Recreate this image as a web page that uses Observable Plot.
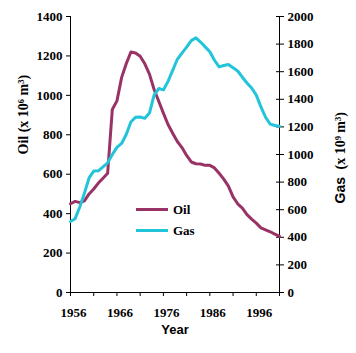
<!DOCTYPE html>
<html>
<head>
<meta charset="utf-8">
<script src="https://cdn.jsdelivr.net/npm/d3@7"></script>
<script src="https://cdn.jsdelivr.net/npm/@observablehq/plot@0.6"></script>
<style>
  html, body { margin: 0; padding: 0; background: #fff; }
  #wrap { position: relative; width: 356px; height: 353px; }
  #legend { position: absolute; left: 136px; top: 199px; font: bold 13px "Liberation Serif", serif; color: #000; }
  #legend .row { display: flex; align-items: center; height: 21px; }
  #legend .sw { width: 32px; height: 3px; margin-right: 5px; }
</style>
</head>
<body>
<div id="wrap"></div>
<script>
// ---- data ----
const years = d3.range(1956, 2002);
const oil = [450, 462, 456, 465, 500, 525, 555, 580, 605, 928,
             972, 1090, 1160, 1220, 1215, 1198, 1160, 1108, 1030, 970,
             910, 852, 808, 766, 735, 695, 662, 653, 652, 645,
             645, 632, 605, 575, 540, 485, 450, 428, 395, 372,
             352, 328, 318, 308, 296, 285];
const gas = [515, 535, 620, 720, 830, 880, 882, 910, 940, 1000,
             1052, 1080, 1145, 1235, 1270, 1272, 1262, 1300, 1430, 1478,
             1468, 1530, 1610, 1690, 1735, 1778, 1825, 1845, 1815, 1780,
             1745, 1683, 1635, 1645, 1652, 1628, 1605, 1560, 1518, 1482,
             1430, 1345, 1270, 1220, 1210, 1205];
const seriesNames = ["Oil", "Gas"];
const seriesColors = ["#993366", "#22C4DA"];
const oilTicks = d3.range(0, 1401, 200);
const gasTicks = d3.range(0, 2001, 200);
const xTicksMinor = d3.range(1956, 2002, 5);
const xTicksLabeled = d3.range(1956, 2000, 10);

const ratio = 1400 / 2000; // gas -> oil scale
const oilData = years.map((y, i) => ({year: y, v: oil[i]}));
const gasData = years.map((y, i) => ({year: y, v: gas[i] * ratio}));

const serif = "'Liberation Serif', 'Times New Roman', serif";
const sans = "'Liberation Sans', Arial, sans-serif";

const chart = Plot.plot({
  width: 356,
  height: 353,
  marginTop: 16,
  marginBottom: 61,
  marginLeft: 70,
  marginRight: 77,
  x: {domain: [1956, 2001]},
  y: {domain: [0, 1400]},
  style: {fontFamily: serif, fontSize: "13px", fontWeight: "bold", color: "#000", background: "#fff"},
  marks: [
    // left axis
    Plot.axisY(oilTicks, {anchor: "left", tickSize: 4, tickPadding: 4, label: null, tickFormat: d => String(d), fontFamily: serif}),
    // right axis (ticks crossing the line)
    Plot.axisY(gasTicks.map(v => v * ratio), {anchor: "right", tickSize: 8, dx: -4, tickFormat: () => "", label: null}),
    Plot.axisY(gasTicks.map(v => v * ratio), {anchor: "right", tickSize: 0, tickPadding: 8, label: null, tickFormat: d => String(Math.round(d / ratio)), fontFamily: serif}),
    // x axis
    Plot.axisX(xTicksMinor, {tickSize: 4, tickFormat: () => "", label: null}),
    Plot.axisX(xTicksLabeled, {tickSize: 0, tickPadding: 15, dx: 3, label: null, tickFormat: d => String(d), fontFamily: serif}),
    // axis lines
    Plot.ruleX([1956, 2001], {stroke: "#000"}),
    Plot.ruleY([0], {stroke: "#000"}),
    // series
    Plot.line(oilData, {x: "year", y: "v", stroke: seriesColors[0], strokeWidth: 3, strokeLinejoin: "round"}),
    Plot.line(gasData, {x: "year", y: "v", stroke: seriesColors[1], strokeWidth: 3, strokeLinejoin: "round"}),
    // axis titles
    Plot.text(["Oil (x 10⁶ m³)"], {text: d => d, frameAnchor: "left", dx: -47, rotate: -90, fontSize: 14, fontFamily: serif}),
    Plot.text(["Gas"], {text: d => d, frameAnchor: "right", dx: 61, dy: 49, rotate: -90, textAnchor: "start", fontSize: 14, fontFamily: sans}),
    Plot.text(["(x 10⁹ m³)"], {text: d => d, frameAnchor: "right", dx: 61, dy: 15, rotate: -90, textAnchor: "start", fontSize: 14, fontFamily: serif}),
    Plot.text(["Year"], {text: d => d, frameAnchor: "bottom", dy: 41, fontSize: 13, fontFamily: sans})
  ]
});

const wrap = document.getElementById("wrap");
wrap.appendChild(chart);

// legend
const legend = document.createElement("div");
legend.id = "legend";
seriesNames.forEach((name, i) => {
  const row = document.createElement("div");
  row.className = "row";
  const sw = document.createElement("span");
  sw.className = "sw";
  sw.style.background = seriesColors[i];
  const lab = document.createElement("span");
  lab.textContent = name;
  row.appendChild(sw);
  row.appendChild(lab);
  legend.appendChild(row);
});
wrap.appendChild(legend);
</script>
</body>
</html>
